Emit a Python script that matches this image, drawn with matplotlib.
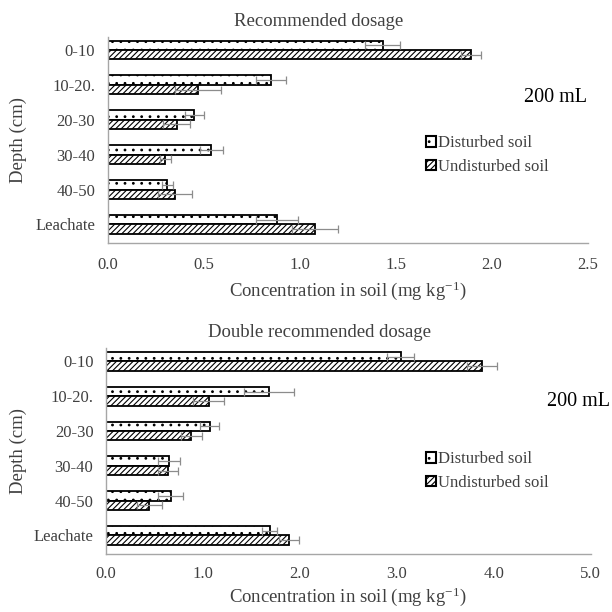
import numpy as np
import matplotlib
matplotlib.use('Agg')
import matplotlib.pyplot as plt
from matplotlib.patches import Patch

plt.rcParams['font.family'] = ['Liberation Serif', 'DejaVu Serif']
plt.rcParams['mathtext.fontset'] = 'custom'
plt.rcParams['mathtext.rm'] = 'Liberation Serif'
plt.rcParams['mathtext.default'] = 'regular'
plt.rcParams['hatch.linewidth'] = 0.8

# Data
depths = ['0-10', '10-20.', '20-30', '30-40', '40-50', 'Leachate']

rec_disturbed = [1.43, 0.85, 0.45, 0.54, 0.31, 0.88]
rec_disturbed_err = [0.09, 0.08, 0.05, 0.06, 0.03, 0.11]
rec_undisturbed = [1.89, 0.47, 0.36, 0.30, 0.35, 1.08]
rec_undisturbed_err = [0.05, 0.12, 0.07, 0.03, 0.09, 0.12]

dbl_disturbed = [3.04, 1.68, 1.07, 0.65, 0.67, 1.69]
dbl_disturbed_err = [0.14, 0.26, 0.10, 0.11, 0.13, 0.08]
dbl_undisturbed = [3.88, 1.06, 0.88, 0.64, 0.45, 1.89]
dbl_undisturbed_err = [0.15, 0.16, 0.11, 0.10, 0.13, 0.10]

text_color = '#404040'
spine_color = '#a6a6a6'


def draw_panel(ax, dist, dist_err, undist, undist_err, title, xmax, xticks,
               ylab_x, xpad, xlabpad):
    y = np.arange(len(depths))
    h = 0.27
    ax.barh(y - h / 2, dist, height=h, color='white', edgecolor='black',
            linewidth=1.3, hatch='..', xerr=dist_err,
            error_kw=dict(ecolor='#8c8c8c', elinewidth=0.9, capsize=3, capthick=0.9))
    ax.barh(y + h / 2, undist, height=h, color='white', edgecolor='black',
            linewidth=1.3, hatch='//////', xerr=undist_err,
            error_kw=dict(ecolor='#8c8c8c', elinewidth=0.9, capsize=3, capthick=0.9))
    ax.set_yticks(y)
    ax.set_yticklabels(depths)
    ax.set_ylim(len(depths) - 0.47, -0.38)
    ax.set_xlim(0, xmax)
    ax.set_xticks(xticks)
    ax.set_xticklabels(['%.1f' % t for t in xticks])
    ax.tick_params(length=0, labelsize=12, colors=text_color)
    ax.tick_params(axis='x', pad=xpad)
    ax.tick_params(axis='y', pad=9)
    for s in ['top', 'right']:
        ax.spines[s].set_visible(False)
    for s in ['left', 'bottom']:
        ax.spines[s].set_color(spine_color)
        ax.spines[s].set_linewidth(1.0)
    ax.set_title(title, fontsize=13.5, color=text_color, pad=8, x=0.44)
    ax.set_ylabel('Depth (cm)', fontsize=13.5, color=text_color)
    ax.yaxis.set_label_coords(ylab_x, 0.5)
    ax.set_xlabel('Concentration in soil (mg kg$^{-1}$)', fontsize=13.5,
                  color=text_color, labelpad=xlabpad)


fig = plt.figure(figsize=(6.12, 6.12), dpi=100)

ax1 = fig.add_axes([0.176, 0.603, 0.785, 0.337])
draw_panel(ax1, rec_disturbed, rec_disturbed_err, rec_undisturbed,
           rec_undisturbed_err, 'Recommended dosage', 2.5,
           [0.0, 0.5, 1.0, 1.5, 2.0, 2.5], (27 - 108) / 480, 10, 5)

ax2 = fig.add_axes([0.173, 0.095, 0.792, 0.336])
draw_panel(ax2, dbl_disturbed, dbl_disturbed_err, dbl_undisturbed,
           dbl_undisturbed_err, 'Double recommended dosage', 5.0,
           [0.0, 1.0, 2.0, 3.0, 4.0, 5.0], (27 - 106) / 485, 9, 2)

handles = [Patch(facecolor='white', edgecolor='black', hatch='..', linewidth=1.5),
           Patch(facecolor='white', edgecolor='black', hatch='//////', linewidth=1.5)]
labels = ['Disturbed soil', 'Undisturbed soil']

for ytxt, yleg, xtxt in [(98, 155, 587), (402, 471, 610)]:
    fig.text(xtxt / 612, 1 - ytxt / 612, '200 mL', fontsize=14.5, color='black',
             ha='right', va='center')
    fig.legend(handles, labels, loc='center left',
               bbox_to_anchor=(418 / 612, 1 - yleg / 612), frameon=False,
               fontsize=12, handlelength=0.6, handleheight=0.6,
               handletextpad=0.1, labelspacing=0.45, borderpad=0,
               labelcolor=text_color)

fig.savefig('out.png', dpi=100)
